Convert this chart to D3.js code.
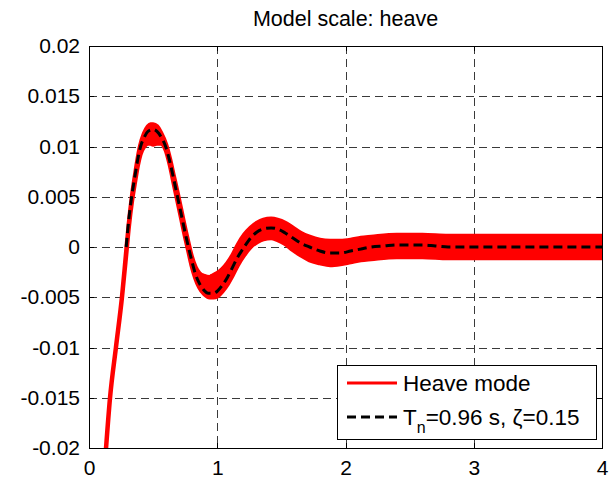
<!DOCTYPE html>
<html>
<head>
<meta charset="utf-8">
<script src="https://cdn.jsdelivr.net/npm/d3@7"></script>
<style>
  html, body { margin: 0; padding: 0; background: #fff; }
  svg { display: block; font-family: "Liberation Sans", Arial, Helvetica, sans-serif; }
</style>
</head>
<body>
<div id="chart"></div>
<script>
// Heave response, model scale: measured record (envelope of the noisy trace)
const heaveT  = [0.130, 0.164, 0.210, 0.257, 0.290, 0.310, 0.335, 0.360, 0.380, 0.400, 0.430, 0.460, 0.480, 0.500, 0.530, 0.560, 0.600, 0.630, 0.660, 0.690, 0.720, 0.750, 0.775, 0.800, 0.830, 0.860, 0.900, 0.940, 0.970, 1.000, 1.040, 1.080, 1.120, 1.160, 1.210, 1.260, 1.310, 1.360, 1.420, 1.470, 1.530, 1.590, 1.650, 1.720, 1.800, 1.880, 1.960, 2.040, 2.120, 2.200, 2.400, 2.600, 2.800, 3.000, 3.500, 4.000];
const heaveHi = [-0.0205, -0.0150, -0.0100, -0.0050, -0.0005, 0.0022, 0.0050, 0.0072, 0.0088, 0.0101, 0.0113, 0.0120, 0.0122, 0.0122, 0.0120, 0.0114, 0.0102, 0.0088, 0.0071, 0.0054, 0.0036, 0.0018, 0.0004, -0.0009, -0.0020, -0.0026, -0.0029, -0.0030, -0.0028, -0.0026, -0.0022, -0.0016, -0.0008, 0.0002, 0.0012, 0.0019, 0.0024, 0.0027, 0.0028, 0.0027, 0.0024, 0.0019, 0.0014, 0.0010, 0.0007, 0.0006, 0.0006, 0.0007, 0.0009, 0.0010, 0.0012, 0.0012, 0.0011, 0.0011, 0.0011, 0.0011];
const heaveLo = [-0.0205, -0.0150, -0.0100, -0.0050, -0.0007, 0.0020, 0.0046, 0.0066, 0.0081, 0.0092, 0.0100, 0.0103, 0.0103, 0.0102, 0.0103, 0.0103, 0.0096, 0.0082, 0.0064, 0.0046, 0.0028, 0.0010, -0.0004, -0.0018, -0.0031, -0.0040, -0.0047, -0.0050, -0.0050, -0.0049, -0.0044, -0.0037, -0.0028, -0.0018, -0.0008, 0.0000, 0.0005, 0.0008, 0.0009, 0.0007, 0.0003, -0.0003, -0.0008, -0.0013, -0.0016, -0.0018, -0.0017, -0.0015, -0.0013, -0.0012, -0.0010, -0.0010, -0.0011, -0.0011, -0.0011, -0.0011];

// Fitted second-order response, Tn = 0.96 s, zeta = 0.15
const fitT = [0.290, 0.310, 0.335, 0.360, 0.380, 0.400, 0.430, 0.460, 0.500, 0.530, 0.560, 0.600, 0.630, 0.660, 0.690, 0.720, 0.750, 0.775, 0.800, 0.830, 0.860, 0.890, 0.930, 0.970, 1.000, 1.040, 1.080, 1.120, 1.160, 1.210, 1.260, 1.310, 1.360, 1.420, 1.470, 1.530, 1.590, 1.650, 1.720, 1.800, 1.880, 1.960, 2.040, 2.120, 2.200, 2.300, 2.400, 2.500, 2.600, 2.700, 2.800, 3.000, 3.500, 4.000];
const fitY = [0.0000, 0.0027, 0.0052, 0.0072, 0.0087, 0.0099, 0.0109, 0.0115, 0.0117, 0.0115, 0.0110, 0.0099, 0.0085, 0.0068, 0.0050, 0.0032, 0.0014, 0.0000, -0.0013, -0.0027, -0.0036, -0.0042, -0.0046, -0.0046, -0.0044, -0.0038, -0.0030, -0.0020, -0.0010, 0.0000, 0.0009, 0.0015, 0.0018, 0.0019, 0.0018, 0.0014, 0.0009, 0.0004, 0.0000, -0.0004, -0.0006, -0.0006, -0.0004, -0.0002, 0.0000, 0.0001, 0.0002, 0.0002, 0.0002, 0.0001, 0.0000, 0.0000, 0.0000, 0.0000];

const xTicks = [0, 1, 2, 3, 4];
const yTicks = [-0.02, -0.015, -0.01, -0.005, 0, 0.005, 0.01, 0.015, 0.02];
const yTickLabels = ["-0.02", "-0.015", "-0.01", "-0.005", "0", "0.005", "0.01", "0.015", "0.02"];
const titleText = "Model scale: heave";
const legendLabels = ["Heave mode", "T", "n", "=0.96 s, ζ=0.15"];

const W = 614, H = 478;
const margin = { left: 89, right: 12, top: 46, bottom: 30 };
const pw = W - margin.left - margin.right;
const ph = H - margin.top - margin.bottom;

const svg = d3.select("#chart").append("svg").attr("width", W).attr("height", H);

const x = d3.scaleLinear().domain([0, 4]).range([0, pw]);
const y = d3.scaleLinear().domain([-0.02, 0.02]).range([ph, 0]);

const g = svg.append("g").attr("transform", `translate(${margin.left},${margin.top})`);

svg.append("defs").append("clipPath").attr("id", "plotclip")
  .append("rect").attr("width", pw).attr("height", ph);

// dashed grid
const grid = g.append("g").attr("stroke", "#3a3a3a").attr("stroke-width", 1)
  .attr("stroke-dasharray", "8,5").attr("shape-rendering", "crispEdges");
xTicks.slice(1, -1).forEach(t => grid.append("line")
  .attr("x1", Math.round(x(t)) + 0.5).attr("x2", Math.round(x(t)) + 0.5)
  .attr("y1", 0).attr("y2", ph));
yTicks.slice(1, -1).forEach(t => grid.append("line")
  .attr("y1", Math.round(y(t)) + 0.5).attr("y2", Math.round(y(t)) + 0.5)
  .attr("x1", 0).attr("x2", pw));

const plot = g.append("g").attr("clip-path", "url(#plotclip)");

// measured heave band
const heave = heaveT.map((t, i) => ({ t, hi: heaveHi[i], lo: heaveLo[i] }));
const band = d3.area().x(d => x(d.t)).y0(d => y(d.lo)).y1(d => y(d.hi)).curve(d3.curveMonotoneX);
plot.append("path").datum(heave).attr("d", band)
  .attr("fill", "#ff0000").attr("stroke", "#ff0000").attr("stroke-width", 4.5)
  .attr("stroke-linejoin", "round");

// fitted curve
const fit = fitT.map((t, i) => ({ t, v: fitY[i] }));
const line = d3.line().x(d => x(d.t)).y(d => y(d.v)).curve(d3.curveMonotoneX);
plot.append("path").datum(fit).attr("d", line)
  .attr("fill", "none").attr("stroke", "#000").attr("stroke-width", 3)
  .attr("stroke-dasharray", "9,5");

// axes (box with inward ticks)
const fontSize = 21;
const xAxisB = d3.axisBottom(x).tickValues(xTicks).tickSizeInner(-5).tickSizeOuter(0).tickPadding(12).tickFormat(d3.format("d"));
const xAxisT = d3.axisTop(x).tickValues(xTicks).tickSizeInner(-5).tickSizeOuter(0).tickFormat("");
const yAxisL = d3.axisLeft(y).tickValues(yTicks).tickSizeInner(-5).tickSizeOuter(0).tickPadding(9)
  .tickFormat((d, i) => yTickLabels[i]);
const yAxisR = d3.axisRight(y).tickValues(yTicks).tickSizeInner(-5).tickSizeOuter(0).tickFormat("");

function styleAxis(sel) {
  sel.select(".domain").remove();
  sel.selectAll("line").attr("stroke", "#000").attr("shape-rendering", "crispEdges");
  sel.selectAll("text").attr("fill", "#000").attr("font-size", fontSize)
    .attr("font-family", "'Liberation Sans', Arial, sans-serif");
}
g.append("g").attr("transform", `translate(0,${ph})`).call(xAxisB).call(styleAxis);
g.append("g").call(xAxisT).call(styleAxis);
g.append("g").call(yAxisL).call(styleAxis);
g.append("g").attr("transform", `translate(${pw},0)`).call(yAxisR).call(styleAxis);

g.append("rect").attr("x", 0.5).attr("y", 0.5).attr("width", pw).attr("height", ph)
  .attr("fill", "none").attr("stroke", "#000").attr("stroke-width", 1)
  .attr("shape-rendering", "crispEdges");

// title
svg.append("text").attr("x", margin.left + pw / 2).attr("y", 26)
  .attr("text-anchor", "middle").attr("font-size", 21.5).attr("fill", "#000")
  .text(titleText);

// legend
const lg = svg.append("g").attr("transform", "translate(337,365)");
lg.append("rect").attr("x", 0.5).attr("y", 0.5).attr("width", 259).attr("height", 74)
  .attr("fill", "#fff").attr("stroke", "#000").attr("stroke-width", 1).attr("shape-rendering", "crispEdges");
lg.append("line").attr("x1", 10).attr("x2", 60).attr("y1", 18).attr("y2", 18)
  .attr("stroke", "#ff0000").attr("stroke-width", 3);
lg.append("text").attr("x", 66).attr("y", 26).attr("font-size", 22.5).attr("fill", "#000").text(legendLabels[0]);
lg.append("line").attr("x1", 10).attr("x2", 60).attr("y1", 52).attr("y2", 52)
  .attr("stroke", "#000").attr("stroke-width", 3).attr("stroke-dasharray", "9,5");
const t2 = lg.append("text").attr("x", 66).attr("y", 60).attr("font-size", 22.5).attr("fill", "#000");
t2.append("tspan").text(legendLabels[1]);
t2.append("tspan").attr("dy", 8).attr("font-size", 16).text(legendLabels[2]);
t2.append("tspan").attr("dy", -8).text(legendLabels[3]);
</script>
</body>
</html>
